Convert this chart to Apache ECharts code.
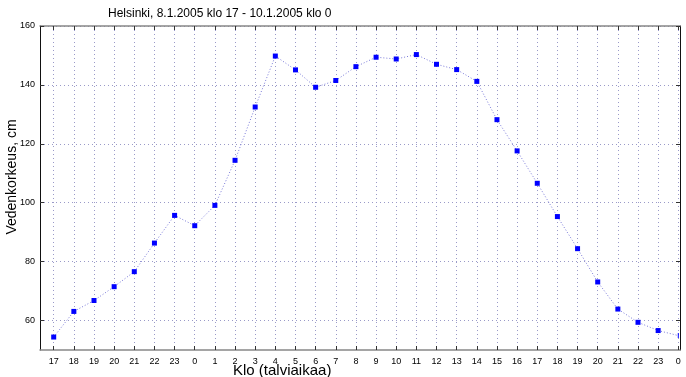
<!DOCTYPE html>
<html>
<head>
<meta charset="utf-8">
<script src="https://cdn.jsdelivr.net/npm/echarts@6/dist/echarts.min.js"></script>
<style>
  html, body { margin: 0; padding: 0; background: #fff; }
  #chart { width: 686px; height: 377px; }
</style>
</head>
<body>
<div id="chart"></div>
<script>
// tunnit (klo) ja vedenkorkeus, cm
var hours = [17, 18, 19, 20, 21, 22, 23, 0, 1, 2, 3, 4, 5, 6, 7, 8, 9, 10, 11, 12, 13, 14, 15, 16, 17, 18, 19, 20, 21, 22, 23, 0];
var level = [54.4, 63.1, 66.8, 71.5, 76.6, 86.3, 95.7, 92.2, 99.1, 114.4, 132.5, 149.8, 145.1, 139.2, 141.5, 146.2,
             149.4, 148.8, 150.3, 147.0, 145.2, 141.2, 128.2, 117.6, 106.6, 95.3, 84.4, 73.1, 63.9, 59.4, 56.6, 54.9];
var yTicks = [60, 80, 100, 120, 140, 160];

var seriesData = level.map(function (v, i) {
  var item = { value: [i, v] };
  if (i == level.length - 1) {
    // viimeinen piste ilman merkkiä, vain pieni viiva
    item.symbol = 'rect';
    item.symbolSize = [1, 5];
  }
  return item;
});

var font = 'Liberation Sans, Arial, sans-serif';
var gridLine = { show: true, lineStyle: { color: '#9a9ac8', type: [1, 3], width: 1 } };
var tickStyle = { color: '#333' };

var chart = echarts.init(document.getElementById('chart'));
var option = {
  animation: false,
  title: [
    {
      text: 'Helsinki, 8.1.2005 klo 17 - 10.1.2005 klo 0',
      left: 103, top: 3,
      textStyle: { fontFamily: font, fontSize: 12, fontWeight: 'normal', color: '#000' }
    },
    {
      text: 'Klo (talviaikaa)',
      left: 228, top: 358,
      textStyle: { fontFamily: font, fontSize: 15, fontWeight: 'normal', color: '#000' }
    }
  ],
  grid: [
    // kehys + vaakaviivat
    { left: 40, right: 6, top: 26, bottom: 27, outerBoundsMode: 'none' },
    // tuntiakseli
    { left: 53.7, right: 7.7, top: 26, bottom: 27, outerBoundsMode: 'none' }
  ],
  xAxis: [
    {
      gridIndex: 0, type: 'value', min: 0, max: 1,
      axisLine: { show: true, onZero: false, lineStyle: { color: '#888', width: 1.5 } },
      axisTick: { show: false }, axisLabel: { show: false }, splitLine: { show: false }
    },
    {
      gridIndex: 0, type: 'value', position: 'top', min: 0, max: 1,
      axisLine: { show: true, onZero: false, lineStyle: { color: '#888', width: 1.5 } },
      axisTick: { show: false }, axisLabel: { show: false }, splitLine: { show: false }
    },
    {
      gridIndex: 1, type: 'value', min: 0, max: hours.length - 1, interval: 1,
      axisLine: { show: false },
      axisTick: { show: true, inside: true, length: 4, lineStyle: tickStyle },
      axisLabel: {
        margin: 7, fontFamily: font, fontSize: 9, color: '#000',
        showMinLabel: true, showMaxLabel: true,
        formatter: function (v) { return hours[Math.round(v)]; }
      },
      splitLine: gridLine
    },
    {
      gridIndex: 1, type: 'value', position: 'top', min: 0, max: hours.length - 1, interval: 1,
      axisLine: { show: false },
      axisTick: { show: true, inside: true, length: 4, lineStyle: tickStyle },
      axisLabel: { show: false }, splitLine: { show: false }
    }
  ],
  yAxis: [
    {
      gridIndex: 0, type: 'value', min: 50, max: 160,
      name: 'Vedenkorkeus, cm',
      nameLocation: 'middle', nameGap: 21, nameMoveOverlap: false,
      nameTextStyle: { fontFamily: font, fontSize: 14, color: '#000', padding: [0, 0, 0, 22] },
      axisLine: { show: true, onZero: false, lineStyle: { color: '#111', width: 1 } },
      axisTick: { show: true, inside: true, length: 4, customValues: yTicks, lineStyle: tickStyle },
      axisLabel: { customValues: yTicks, margin: 5, fontFamily: font, fontSize: 9, color: '#000' },
      splitLine: gridLine
    },
    {
      gridIndex: 0, type: 'value', position: 'right', min: 50, max: 160,
      axisLine: { show: true, onZero: false, lineStyle: { color: '#111', width: 1 } },
      axisTick: { show: true, inside: true, length: 4, customValues: yTicks, lineStyle: tickStyle },
      axisLabel: { show: false }, splitLine: { show: false }
    },
    {
      gridIndex: 1, type: 'value', min: 50, max: 160, show: false
    }
  ],
  series: [
    {
      type: 'line',
      xAxisIndex: 2, yAxisIndex: 2,
      data: seriesData,
      symbol: 'rect',
      symbolSize: 5,
      itemStyle: { color: '#0000ff' },
      lineStyle: { color: '#7a7ad8', width: 1, type: [1, 2] }
    }
  ]
};
chart.setOption(option);
</script>
</body>
</html>
